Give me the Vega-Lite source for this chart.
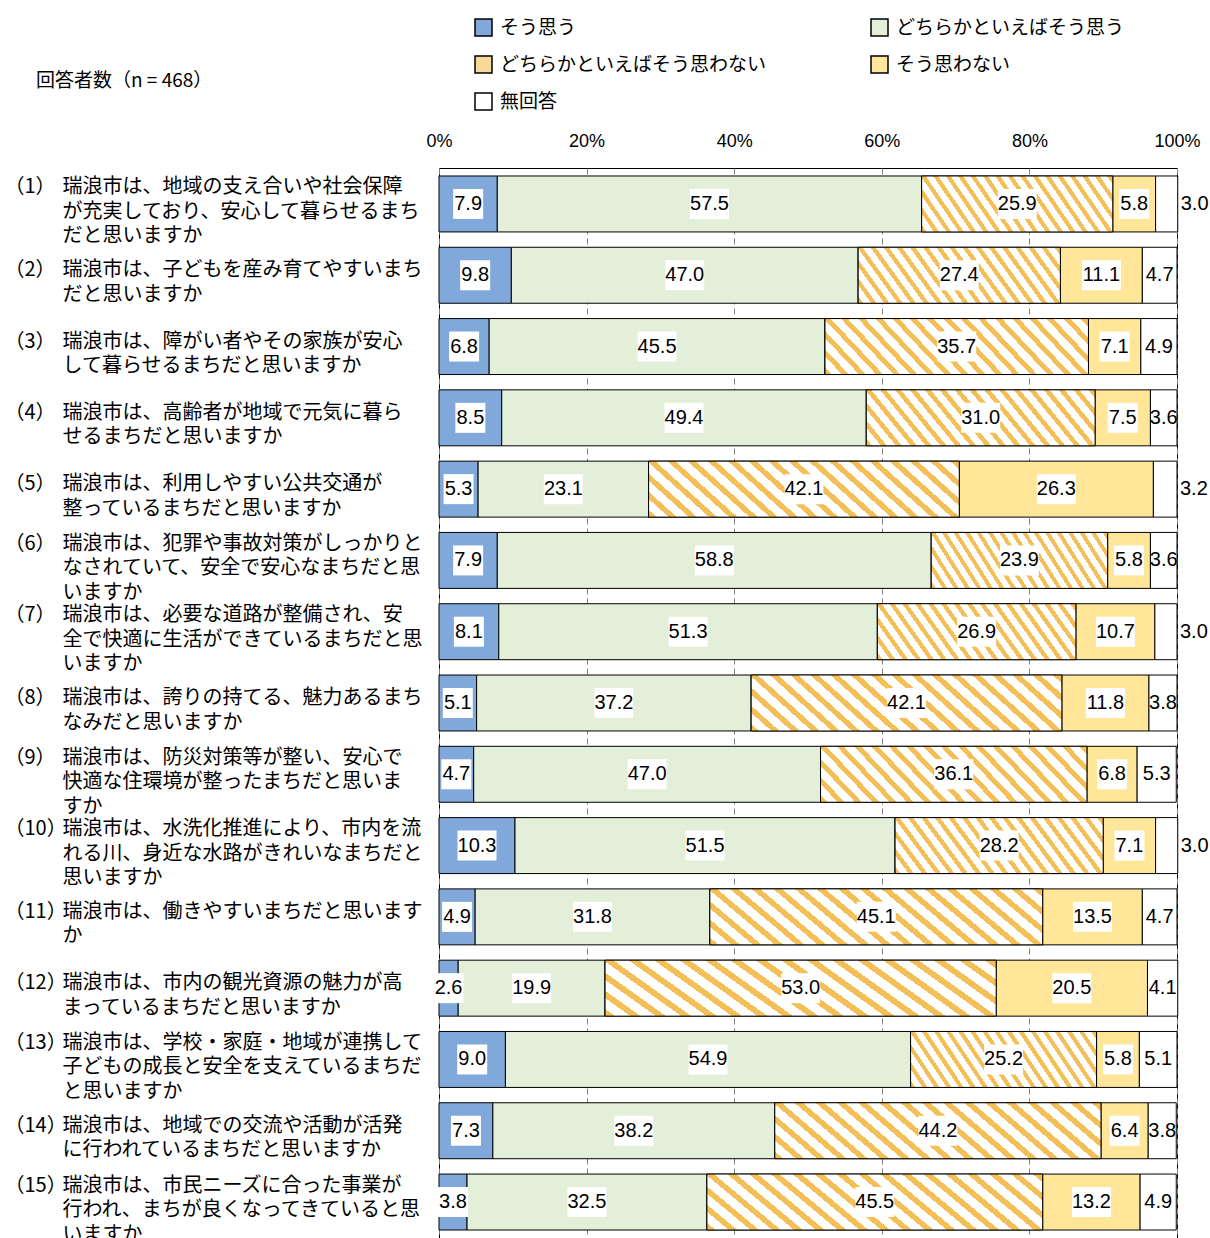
{
  "$schema": "https://vega.github.io/schema/vega-lite/v6.json",
  "width": 738,
  "height": 1070,
  "autosize": {"type": "none"},
  "padding": {"left": 439, "top": 168, "right": 33, "bottom": 0},
  "background": "#ffffff",
  "config": {
    "view": {"stroke": "#000000", "strokeWidth": 1},
    "font": "Noto Sans CJK JP"
  },
  "title": {
    "text": "回答者数（n = 468）",
    "anchor": "start",
    "frame": "group",
    "dx": -403,
    "dy": 116,
    "offset": 43,
    "fontSize": 19,
    "fontWeight": "normal",
    "font": "Noto Sans CJK JP",
    "color": "#000000"
  },
  "data": {
    "values": [
      {"q": "（1）|瑞浪市は、地域の支え合いや社会保障\nが充実しており、安心して暮らせるまち\nだと思いますか", "そう思う": 7.9, "どちらかといえばそう思う": 57.5, "どちらかといえばそう思わない": 25.9, "そう思わない": 5.8, "無回答": 3.0},
      {"q": "（2）|瑞浪市は、子どもを産み育てやすいまち\nだと思いますか", "そう思う": 9.8, "どちらかといえばそう思う": 47.0, "どちらかといえばそう思わない": 27.4, "そう思わない": 11.1, "無回答": 4.7},
      {"q": "（3）|瑞浪市は、障がい者やその家族が安心\nして暮らせるまちだと思いますか", "そう思う": 6.8, "どちらかといえばそう思う": 45.5, "どちらかといえばそう思わない": 35.7, "そう思わない": 7.1, "無回答": 4.9},
      {"q": "（4）|瑞浪市は、高齢者が地域で元気に暮ら\nせるまちだと思いますか", "そう思う": 8.5, "どちらかといえばそう思う": 49.4, "どちらかといえばそう思わない": 31.0, "そう思わない": 7.5, "無回答": 3.6},
      {"q": "（5）|瑞浪市は、利用しやすい公共交通が\n整っているまちだと思いますか", "そう思う": 5.3, "どちらかといえばそう思う": 23.1, "どちらかといえばそう思わない": 42.1, "そう思わない": 26.3, "無回答": 3.2},
      {"q": "（6）|瑞浪市は、犯罪や事故対策がしっかりと\nなされていて、安全で安心なまちだと思\nいますか", "そう思う": 7.9, "どちらかといえばそう思う": 58.8, "どちらかといえばそう思わない": 23.9, "そう思わない": 5.8, "無回答": 3.6},
      {"q": "（7）|瑞浪市は、必要な道路が整備され、安\n全で快適に生活ができているまちだと思\nいますか", "そう思う": 8.1, "どちらかといえばそう思う": 51.3, "どちらかといえばそう思わない": 26.9, "そう思わない": 10.7, "無回答": 3.0},
      {"q": "（8）|瑞浪市は、誇りの持てる、魅力あるまち\nなみだと思いますか", "そう思う": 5.1, "どちらかといえばそう思う": 37.2, "どちらかといえばそう思わない": 42.1, "そう思わない": 11.8, "無回答": 3.8},
      {"q": "（9）|瑞浪市は、防災対策等が整い、安心で\n快適な住環境が整ったまちだと思いま\nすか", "そう思う": 4.7, "どちらかといえばそう思う": 47.0, "どちらかといえばそう思わない": 36.1, "そう思わない": 6.8, "無回答": 5.3},
      {"q": "（10）|瑞浪市は、水洗化推進により、市内を流\nれる川、身近な水路がきれいなまちだと\n思いますか", "そう思う": 10.3, "どちらかといえばそう思う": 51.5, "どちらかといえばそう思わない": 28.2, "そう思わない": 7.1, "無回答": 3.0},
      {"q": "（11）|瑞浪市は、働きやすいまちだと思います\nか", "そう思う": 4.9, "どちらかといえばそう思う": 31.8, "どちらかといえばそう思わない": 45.1, "そう思わない": 13.5, "無回答": 4.7},
      {"q": "（12）|瑞浪市は、市内の観光資源の魅力が高\nまっているまちだと思いますか", "そう思う": 2.6, "どちらかといえばそう思う": 19.9, "どちらかといえばそう思わない": 53.0, "そう思わない": 20.5, "無回答": 4.1},
      {"q": "（13）|瑞浪市は、学校・家庭・地域が連携して\n子どもの成長と安全を支えているまちだ\nと思いますか", "そう思う": 9.0, "どちらかといえばそう思う": 54.9, "どちらかといえばそう思わない": 25.2, "そう思わない": 5.8, "無回答": 5.1},
      {"q": "（14）|瑞浪市は、地域での交流や活動が活発\nに行われているまちだと思いますか", "そう思う": 7.3, "どちらかといえばそう思う": 38.2, "どちらかといえばそう思わない": 44.2, "そう思わない": 6.4, "無回答": 3.8},
      {"q": "（15）|瑞浪市は、市民ニーズに合った事業が\n行われ、まちが良くなってきていると思\nいますか", "そう思う": 3.8, "どちらかといえばそう思う": 32.5, "どちらかといえばそう思わない": 45.5, "そう思わない": 13.2, "無回答": 4.9}
    ]
  },
  "transform": [
    {"fold": ["そう思う", "どちらかといえばそう思う", "どちらかといえばそう思わない", "そう思わない", "無回答"], "as": ["cat", "v"]},
    {"calculate": "indexof(['そう思う', 'どちらかといえばそう思う', 'どちらかといえばそう思わない', 'そう思わない', '無回答'], datum.cat)", "as": "ord"},
    {"stack": "v", "groupby": ["q"], "sort": [{"field": "ord", "order": "ascending"}], "as": ["x0", "x1"]},
    {"calculate": "(datum.x0 + datum.x1) / 2", "as": "mid"}
  ],
  "resolve": {"axis": {"y": "independent"}},
  "layer": [
    {
      "mark": {"type": "bar", "stroke": "#000000", "strokeWidth": 1},
      "encoding": {
        "y": {
          "field": "q",
          "type": "nominal",
          "sort": null,
          "scale": {"paddingInner": 0.215, "paddingOuter": 0.112},
          "axis": {
            "orient": "left",
            "title": null,
            "labelAlign": "left",
            "labelBaseline": "middle",
            "labelPadding": 435,
            "labelLimit": 0,
            "labelFontSize": 20,
            "labelFont": "Noto Sans CJK JP",
            "labelColor": "#000000",
            "labelExpr": "split(datum.label, '|')[0]",
            "labelOffset": {"condition": {"test": "length(split(datum.label, '\\n')) >= 3", "value": -16.5}, "value": -5},
            "ticks": false,
            "domain": false,
            "grid": false
          }
        },
        "x": {
          "field": "x0",
          "type": "quantitative",
          "scale": {"domain": [0, 100], "nice": false},
          "axis": {
            "orient": "top",
            "title": null,
            "values": [0, 20, 40, 60, 80, 100],
            "labelExpr": "datum.value + '%'",
            "labelFlush": false,
            "ticks": false,
            "domain": false,
            "labelPadding": 18,
            "labelFontSize": 18,
            "labelFont": "Liberation Sans Narrow, Liberation Sans, sans-serif",
            "labelColor": "#000000",
            "grid": true,
            "gridDash": [6, 4],
            "gridColor": "#808080",
            "gridWidth": 1
          }
        },
        "x2": {"field": "x1"},
        "fill": {
          "field": "cat",
          "type": "nominal",
          "scale": {
            "domain": ["そう思う", "どちらかといえばそう思う", "どちらかといえばそう思わない", "そう思わない", "無回答"],
            "range": ["#80A8DB", "#E3EFD9", "#F9D99A", "#FFE699", "#FFFFFF"]
          },
          "legend": {
            "orient": "none",
            "direction": "horizontal",
            "legendX": 35,
            "legendY": -150,
            "columns": 2,
            "title": null,
            "symbolType": "square",
            "symbolSize": 289,
            "symbolOpacity": 1,
            "labelFontSize": 19,
            "labelFont": "Noto Sans CJK JP",
            "labelColor": "#000000",
            "labelOffset": 7,
            "labelLimit": 0,
            "rowPadding": 14,
            "columnPadding": 101,
            "padding": 0,
            "encode": {
              "symbols": {
                "stroke": {"value": "#000000"},
                "strokeWidth": {"value": 1}
              }
            }
          }
        }
      }
    },
    {
      "transform": [{"filter": "datum.cat === 'どちらかといえばそう思わない'"}],
      "mark": {
        "type": "bar",
        "stroke": "#000000",
        "strokeWidth": 1,
        "fill": {
          "gradient": "linear", "x1": 0, "y1": 1, "x2": 1.25, "y2": 0.75,
          "stops": [
            {"offset": 0, "color": "#F5BF57"}, {"offset": 0.02, "color": "#F5BF57"}, {"offset": 0.02, "color": "#FFFFFF"}, {"offset": 0.05, "color": "#FFFFFF"},
            {"offset": 0.05, "color": "#F5BF57"}, {"offset": 0.07, "color": "#F5BF57"}, {"offset": 0.07, "color": "#FFFFFF"}, {"offset": 0.1, "color": "#FFFFFF"},
            {"offset": 0.1, "color": "#F5BF57"}, {"offset": 0.12, "color": "#F5BF57"}, {"offset": 0.12, "color": "#FFFFFF"}, {"offset": 0.15, "color": "#FFFFFF"},
            {"offset": 0.15, "color": "#F5BF57"}, {"offset": 0.17, "color": "#F5BF57"}, {"offset": 0.17, "color": "#FFFFFF"}, {"offset": 0.2, "color": "#FFFFFF"},
            {"offset": 0.2, "color": "#F5BF57"}, {"offset": 0.22, "color": "#F5BF57"}, {"offset": 0.22, "color": "#FFFFFF"}, {"offset": 0.25, "color": "#FFFFFF"},
            {"offset": 0.25, "color": "#F5BF57"}, {"offset": 0.27, "color": "#F5BF57"}, {"offset": 0.27, "color": "#FFFFFF"}, {"offset": 0.3, "color": "#FFFFFF"},
            {"offset": 0.3, "color": "#F5BF57"}, {"offset": 0.32, "color": "#F5BF57"}, {"offset": 0.32, "color": "#FFFFFF"}, {"offset": 0.35, "color": "#FFFFFF"},
            {"offset": 0.35, "color": "#F5BF57"}, {"offset": 0.37, "color": "#F5BF57"}, {"offset": 0.37, "color": "#FFFFFF"}, {"offset": 0.4, "color": "#FFFFFF"},
            {"offset": 0.4, "color": "#F5BF57"}, {"offset": 0.42, "color": "#F5BF57"}, {"offset": 0.42, "color": "#FFFFFF"}, {"offset": 0.45, "color": "#FFFFFF"},
            {"offset": 0.45, "color": "#F5BF57"}, {"offset": 0.47, "color": "#F5BF57"}, {"offset": 0.47, "color": "#FFFFFF"}, {"offset": 0.5, "color": "#FFFFFF"},
            {"offset": 0.5, "color": "#F5BF57"}, {"offset": 0.52, "color": "#F5BF57"}, {"offset": 0.52, "color": "#FFFFFF"}, {"offset": 0.55, "color": "#FFFFFF"},
            {"offset": 0.55, "color": "#F5BF57"}, {"offset": 0.57, "color": "#F5BF57"}, {"offset": 0.57, "color": "#FFFFFF"}, {"offset": 0.6, "color": "#FFFFFF"},
            {"offset": 0.6, "color": "#F5BF57"}, {"offset": 0.62, "color": "#F5BF57"}, {"offset": 0.62, "color": "#FFFFFF"}, {"offset": 0.65, "color": "#FFFFFF"},
            {"offset": 0.65, "color": "#F5BF57"}, {"offset": 0.67, "color": "#F5BF57"}, {"offset": 0.67, "color": "#FFFFFF"}, {"offset": 0.7, "color": "#FFFFFF"},
            {"offset": 0.7, "color": "#F5BF57"}, {"offset": 0.72, "color": "#F5BF57"}, {"offset": 0.72, "color": "#FFFFFF"}, {"offset": 0.75, "color": "#FFFFFF"},
            {"offset": 0.75, "color": "#F5BF57"}, {"offset": 0.77, "color": "#F5BF57"}, {"offset": 0.77, "color": "#FFFFFF"}, {"offset": 0.8, "color": "#FFFFFF"},
            {"offset": 0.8, "color": "#F5BF57"}, {"offset": 0.82, "color": "#F5BF57"}, {"offset": 0.82, "color": "#FFFFFF"}, {"offset": 0.85, "color": "#FFFFFF"},
            {"offset": 0.85, "color": "#F5BF57"}, {"offset": 0.87, "color": "#F5BF57"}, {"offset": 0.87, "color": "#FFFFFF"}, {"offset": 0.9, "color": "#FFFFFF"},
            {"offset": 0.9, "color": "#F5BF57"}, {"offset": 0.92, "color": "#F5BF57"}, {"offset": 0.92, "color": "#FFFFFF"}, {"offset": 0.95, "color": "#FFFFFF"},
            {"offset": 0.95, "color": "#F5BF57"}, {"offset": 0.97, "color": "#F5BF57"}, {"offset": 0.97, "color": "#FFFFFF"}, {"offset": 1, "color": "#FFFFFF"}
          ]
        }
      },
      "encoding": {
        "y": {"field": "q", "type": "nominal", "sort": null, "axis": null},
        "x": {"field": "x0", "type": "quantitative"},
        "x2": {"field": "x1"}
      }
    },
    {
      "transform": [{"filter": "datum.cat !== '無回答'"}],
      "mark": {"type": "point", "filled": true, "fill": "#FFFFFF", "strokeWidth": 0, "opacity": 1},
      "encoding": {
        "y": {
          "field": "q",
          "type": "nominal",
          "sort": null,
          "axis": {
            "orient": "left",
            "title": null,
            "labelAlign": "left",
            "labelBaseline": "middle",
            "labelPadding": 377,
            "labelLimit": 0,
            "labelFontSize": 20,
            "labelFont": "Noto Sans CJK JP",
            "labelColor": "#000000",
            "labelLineHeight": 24.5,
            "labelExpr": "split(split(datum.label, '|')[1], '\\n')",
            "labelOffset": {"condition": {"test": "length(split(datum.label, '\\n')) >= 3", "value": -16.5}, "value": -5},
            "ticks": false,
            "domain": false,
            "grid": false
          }
        },
        "x": {"field": "mid", "type": "quantitative"},
        "size": {"value": 900},
        "shape": {
          "condition": {"test": "datum.v >= 10", "value": "M-1.3,-1L1.3,-1L1.3,1L-1.3,1Z"},
          "value": "M-1.0,-1L1.0,-1L1.0,1L-1.0,1Z"
        }
      }
    },
    {
      "transform": [{"filter": "datum.cat !== '無回答' || datum.v > 3.3"}],
      "mark": {"type": "text", "font": "Liberation Sans Narrow, Liberation Sans, sans-serif", "fontSize": 20, "color": "#000000", "baseline": "middle", "align": "center"},
      "encoding": {
        "y": {"field": "q", "type": "nominal", "sort": null, "axis": null},
        "x": {"field": "mid", "type": "quantitative"},
        "text": {"field": "v", "type": "quantitative", "format": ".1f"}
      }
    },
    {
      "transform": [{"filter": "datum.cat === '無回答' && datum.v <= 3.3"}],
      "mark": {"type": "text", "font": "Liberation Sans Narrow, Liberation Sans, sans-serif", "fontSize": 20, "color": "#000000", "baseline": "middle", "align": "left", "dx": 3},
      "encoding": {
        "y": {"field": "q", "type": "nominal", "sort": null, "axis": null},
        "x": {"field": "x1", "type": "quantitative"},
        "text": {"field": "v", "type": "quantitative", "format": ".1f"}
      }
    }
  ]
}
